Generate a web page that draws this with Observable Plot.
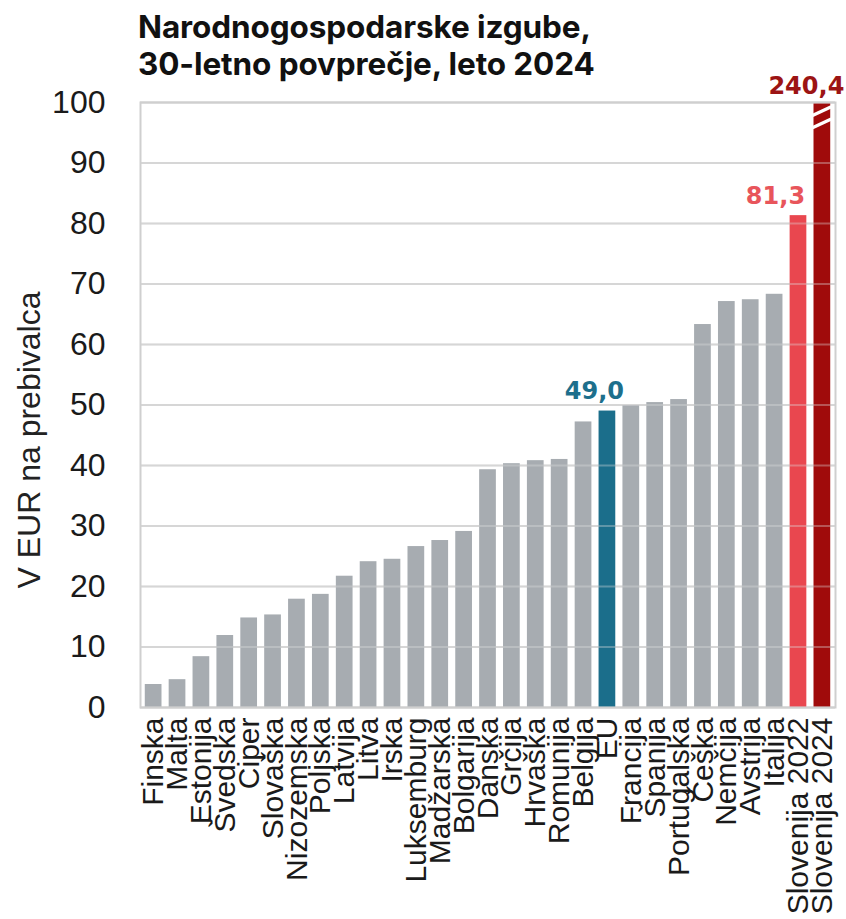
<!DOCTYPE html>
<html>
<head>
<meta charset="utf-8">
<script src="https://cdn.jsdelivr.net/npm/d3@7"></script>
<script src="https://cdn.jsdelivr.net/npm/@observablehq/plot@0.6"></script>
<style>
  html, body { margin: 0; padding: 0; background: #fff; overflow: hidden; width: 846px; height: 919px; }
  #wrap { position: relative; width: 846px; height: 919px; overflow: hidden; font-family: "Liberation Sans", Arial, sans-serif; }
  #chart { position: absolute; left: 0; top: 0; width: 846px; height: 919px; }
  #chart svg { max-width: none !important; width: 846px !important; height: 919px !important; display: block; }
  #title { position: absolute; left: 138px; top: 8px; font-family: Inter, Roboto, sans-serif; font-weight: 700; font-size: 31.5px; line-height: 37px; color: #111; white-space: nowrap; letter-spacing: -0.1px; }
  #ylabel { position: absolute; left: 29px; top: 440px; transform: translate(-50%, -50%) rotate(-90deg); white-space: nowrap; font-size: 32px; color: #222; }
</style>
</head>
<body>
<div id="wrap">
  <div id="chart"></div>
  <div id="title">Narodnogospodarske izgube,<br>30-letno povprečje, leto 2024</div>
  <div id="ylabel">V EUR na prebivalca</div>
</div>
<script>
// ---- data ----
const countries = ["Finska","Malta","Estonija","Švedska","Ciper","Slovaška","Nizozemska","Poljska","Latvija","Litva","Irska","Luksemburg","Madžarska","Bolgarija","Danska","Grčija","Hrvaška","Romunija","Belgija","EU","Francija","Španija","Portugalska","Češka","Nemčija","Avstrija","Italija","Slovenija 2022","Slovenija 2024"];
const values = [3.8, 4.6, 8.4, 11.9, 14.8, 15.3, 17.9, 18.7, 21.7, 24.1, 24.5, 26.6, 27.6, 29.1, 39.3, 40.3, 40.8, 41.0, 47.2, 49.0, 49.9, 50.4, 50.9, 63.3, 67.1, 67.4, 68.3, 81.3, 240.4];
const yTicks = [0, 10, 20, 30, 40, 50, 60, 70, 80, 90, 100];
const highlight = ["EU", "Slovenija 2022", "Slovenija 2024"];
const highlightBarColors = ["#1b6e8b", "#e9474f", "#a00b0b"];
const highlightTextColors = ["#1d6f8c", "#e8555b", "#9c1414"];
const defaultBarColor = "#a7acb1";

// ---- build table ----
const yMax = d3.max(yTicks);
const data = countries.map((c, i) => {
  const h = highlight.indexOf(c);
  return {
    country: c,
    value: values[i],
    shown: Math.min(values[i], yMax),
    fill: h >= 0 ? highlightBarColors[h] : defaultBarColor,
    textFill: h >= 0 ? highlightTextColors[h] : "#333"
  };
});
const fmt = v => v.toFixed(1).replace(".", ",");
const broken = data.filter(d => d.value > yMax);
const breakLines = broken.flatMap(d => [
  {country: d.country, y1: yMax - 1.8, y2: yMax - 1.25},
  {country: d.country, y1: yMax - 3.8, y2: yMax - 3.25}
]);

function valueLabel(country, dx, dy) {
  return Plot.text(data.filter(d => d.country === country), {
    x: "country", y: "shown", text: d => fmt(d.value), fill: "textFill",
    lineAnchor: "bottom", dx, dy,
    fontSize: 24, fontWeight: "bold", fontFamily: "DejaVu Sans"
  });
}

const chart = Plot.plot({
  width: 846,
  height: 919,
  marginTop: 102,
  marginBottom: 212,
  marginLeft: 140,
  marginRight: 11,
  style: { fontFamily: "Liberation Sans, Arial, sans-serif", color: "#1a1a1a", background: "transparent", overflow: "visible" },
  x: { domain: countries, paddingInner: 0.3, paddingOuter: 0.2, round: false },
  y: { domain: [0, yMax] },
  color: { type: "identity" },
  marks: [
    Plot.gridY(yTicks, { stroke: "#d2d2d2", strokeOpacity: 1, strokeWidth: 2 }),
    Plot.barY(data, { x: "country", y: "shown", fill: "fill" }),
    Plot.gridY(yTicks, { stroke: "#e0e0e0", strokeOpacity: 0.35, strokeWidth: 2 }),
    Plot.barY(breakLines, {
      x: "country", y1: "y1", y2: "y2", fill: "#ffffff", insetLeft: -2, insetRight: -2,
      render: (index, scales, vals, dims, context, next) => {
        const g = next(index, scales, vals, dims, context);
        for (const r of g.querySelectorAll("rect")) {
          const x = +r.getAttribute("x"), y = +r.getAttribute("y");
          const w = +r.getAttribute("width"), h = +r.getAttribute("height");
          r.setAttribute("transform", `rotate(-25 ${x + w / 2} ${y + h / 2})`);
        }
        return g;
      }
    }),
    Plot.frame({ stroke: "#cfcfcf", strokeWidth: 2 }),
    Plot.axisY({ ticks: yTicks, tickSize: 0, tickPadding: 35, fontSize: 32, label: null, tickFormat: d => String(d) }),
    Plot.axisX({ tickRotate: -90, tickSize: 0, tickPadding: 10, fontSize: 30, label: null }),
    valueLabel("EU", -13, -12),
    valueLabel("Slovenija 2022", -23, -12),
    valueLabel("Slovenija 2024", -16, -9)
  ]
});
document.getElementById("chart").appendChild(chart);
</script>
</body>
</html>
